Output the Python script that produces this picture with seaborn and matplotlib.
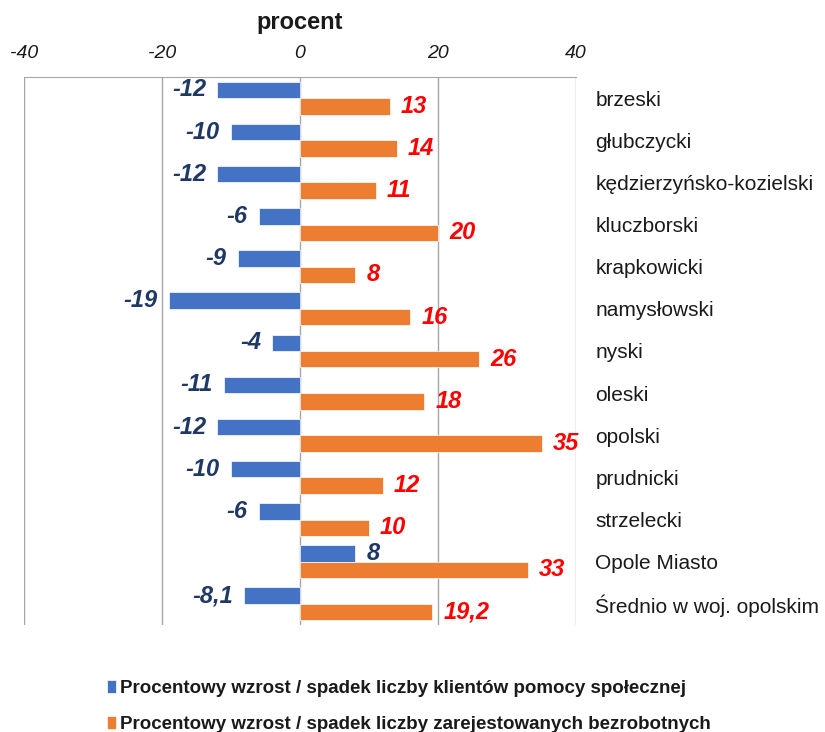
import pandas as pd
import seaborn as sns
import matplotlib.pyplot as plt

powiaty = ["brzeski", "głubczycki", "kędzierzyńsko-kozielski", "kluczborski",
           "krapkowicki", "namysłowski", "nyski", "oleski", "opolski",
           "prudnicki", "strzelecki", "Opole Miasto", "Średnio w woj. opolskim"]
klienci = [-12, -10, -12, -6, -9, -19, -4, -11, -12, -10, -6, 8, -8.1]
bezrobotni = [13, 14, 11, 20, 8, 16, 26, 18, 35, 12, 10, 33, 19.2]
serie = ["Procentowy wzrost / spadek liczby klientów pomocy społecznej",
         "Procentowy wzrost / spadek liczby zarejestowanych bezrobotnych"]
x_ticks = [-40, -20, 0, 20, 40]

df = pd.DataFrame({
    "powiat": powiaty * 2,
    "procent": klienci + bezrobotni,
    "seria": [serie[0]] * len(powiaty) + [serie[1]] * len(powiaty),
})

sns.set_style("white")
plt.rcParams["font.family"] = ["Liberation Sans", "DejaVu Sans"]
plt.rcParams["axes.unicode_minus"] = False
plt.rcParams["text.color"] = "#1A1A1A"

fig = plt.figure(figsize=(8.25, 7.32), dpi=100)
ax = fig.add_axes([24 / 825, 1 - 625 / 732, 552 / 825, 548 / 732])

sns.barplot(data=df, y="powiat", x="procent", hue="seria", orient="h",
            palette=["#4472C4", "#ED7D31"], saturation=1, width=0.78, ax=ax,
            edgecolor="white", linewidth=0.5)

label_colors = ["#1F3864", "#FF0000"]
for cont, col in zip(ax.containers, label_colors):
    labels = [f"{v:g}".replace(".", ",") for v in cont.datavalues]
    ax.bar_label(cont, labels=labels, padding=8, color=col, fontsize=17,
                 fontweight="bold", fontstyle="italic")

ax.set_xlim(-40, 40)
ax.set_xticks(x_ticks)
ax.xaxis.tick_top()
ax.tick_params(axis="x", length=0, pad=11, labelsize=14, labelcolor="#1A1A1A")
for t in ax.get_xticklabels():
    t.set_fontstyle("italic")
ax.grid(axis="x", color="#A6A6A6", lw=1)
ax.grid(axis="y", visible=False)

ax.yaxis.tick_right()
ax.tick_params(axis="y", length=0, pad=14, labelsize=15, labelcolor="#1A1A1A")
for t in ax.get_yticklabels():
    t.set_horizontalalignment("left")

for s in ["left", "right", "bottom"]:
    ax.spines[s].set_visible(False)
ax.spines["top"].set_color("#A6A6A6")

ax.set_xlabel("")
ax.set_ylabel("")
ax.set_title("procent", fontsize=17, fontweight="bold", pad=11, color="#1A1A1A")

handles, labels = ax.get_legend_handles_labels()
ax.legend_.remove()
fig.legend(handles, labels, loc="upper left", bbox_to_anchor=(90 / 825, 1 - 663 / 732),
           frameon=False, handlelength=0.5, handleheight=0.7, handletextpad=0.2,
           labelspacing=1.0, prop={"weight": "bold", "size": 13.5})

plt.savefig("out.png", dpi=100)
